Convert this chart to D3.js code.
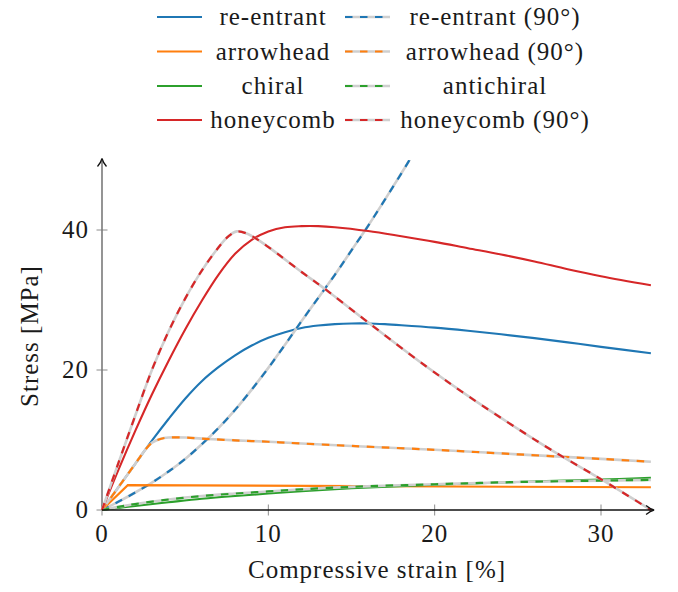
<!DOCTYPE html>
<html>
<head>
<meta charset="utf-8">
<script src="https://cdn.jsdelivr.net/npm/d3@7/dist/d3.min.js"></script>
<style>
  html, body { margin: 0; padding: 0; background: #fff; }
</style>
</head>
<body>
<svg id="chart" width="678" height="592"></svg>
<script>
// ---- Data (strain %, stress MPa) ----
const reentrant = [[0,0],[1,3.3],[2,6.6],[3,9.9],[4,13.0],[5,15.9],[6,18.4],[7,20.4],[8,22.1],[9,23.5],[10,24.6],[11,25.4],[12,26.0],[13,26.35],[14,26.55],[15,26.65],[16,26.65],[17,26.55],[18,26.4],[20,26.05],[22,25.6],[24,25.1],[26,24.55],[28,23.95],[30,23.3],[33,22.4]];
const reentrant90 = [[0,0],[1,1.2],[2,2.5],[3,3.9],[4,5.5],[5,7.3],[6,9.4],[7,11.7],[8,14.3],[9,17.2],[10,20.3],[11,23.6],[12,27],[13,30.3],[14,33.6],[15,37.1],[16,40.6],[17,44.3],[18,48.1],[19,52]];
const arrowhead = [[0,0],[1.55,3.55],[33,3.25]];
const arrowhead90 = [[0,0],[1,3.3],[2,6.6],[2.6,8.6],[3,9.6],[3.5,10.15],[4,10.35],[5,10.35],[6,10.2],[8,9.95],[10,9.75],[12,9.5],[15,9.15],[20,8.6],[25,7.95],[30,7.3],[33,6.9]];
const chiral = [[0,0],[1,0.3],[2,0.58],[4,1.1],[6,1.6],[8,2.0],[10,2.35],[12,2.68],[15,3.1],[20,3.6],[25,4.0],[30,4.35],[33,4.6]];
const antichiral = [[0,0],[1,0.45],[2,0.85],[4,1.5],[6,2.0],[8,2.35],[10,2.65],[12,2.95],[15,3.3],[20,3.68],[25,4.0],[30,4.2],[33,4.3]];
const honeycomb = [[0,0],[1,5.8],[2,11.3],[3,16.5],[4,21.3],[5,25.8],[6,29.9],[7,33.6],[8,36.6],[9,38.6],[10,39.8],[11,40.4],[12,40.55],[13,40.55],[14,40.4],[16,39.85],[18,39.1],[20,38.3],[22,37.4],[24,36.5],[26,35.5],[28,34.4],[30,33.4],[33,32.1]];
const honeycomb90 = [[0,0],[1,6.8],[2,13.5],[3,20],[4,25.5],[5,30.2],[6,34.2],[7,37.5],[7.6,39.1],[8.1,39.8],[8.7,39.5],[9.5,38.4],[10.5,36.7],[12,34],[13.5,31.4],[16,26.8],[19.5,20.5],[22,16.3],[25,11.6],[27,8.6],[30,4.4],[33,0]];

const seriesNames = ["re-entrant", "re-entrant (90°)", "arrowhead", "arrowhead (90°)", "chiral", "antichiral", "honeycomb", "honeycomb (90°)"];
const seriesColors = ["#1f77b4", "#1f77b4", "#ff7f0e", "#ff7f0e", "#2ca02c", "#2ca02c", "#d62728", "#d62728"];
const seriesDashed = [false, true, false, true, false, true, false, true];
const seriesData = [reentrant, reentrant90, arrowhead, arrowhead90, chiral, antichiral, honeycomb, honeycomb90];

const xTicks = [0, 10, 20, 30];
const yTicks = [0, 20, 40];
const xLabel = "Compressive strain [%]";
const yLabel = "Stress [MPa]";

// ---- Layout ----
const FONT = "'Liberation Serif', 'DejaVu Serif', serif";
const svg = d3.select("#chart");
const x = d3.scaleLinear().domain([0, 30]).range([102, 601]);
const y = d3.scaleLinear().domain([0, 40]).range([510, 230]);
const xMax = 33.1, yMax = 50;

function txt(sel) {
  return sel.attr("font-family", FONT).attr("font-size", 25).attr("fill", "#1a1a1a").attr("letter-spacing", "1px");
}

svg.append("defs").append("clipPath").attr("id", "plotclip")
  .append("rect").attr("x", x(0) - 2).attr("y", y(yMax)).attr("width", x(xMax) - x(0) + 4).attr("height", y(0) - y(yMax) + 4);

// ticks (gray, crossing axes)
const tickColor = "#8c8c8c";
svg.append("g").selectAll("line").data(xTicks).join("line")
  .attr("x1", d => x(d)).attr("x2", d => x(d)).attr("y1", y(0) - 5.5).attr("y2", y(0) + 5.5)
  .attr("stroke", tickColor).attr("stroke-width", 1);
svg.append("g").selectAll("line").data(yTicks).join("line")
  .attr("x1", x(0) - 5.5).attr("x2", x(0) + 5.5).attr("y1", d => y(d)).attr("y2", d => y(d))
  .attr("stroke", tickColor).attr("stroke-width", 1);

// tick labels
txt(svg.append("g").selectAll("text").data(xTicks).join("text"))
  .attr("x", d => x(d)).attr("y", 542).attr("text-anchor", "middle").text(d => d);
txt(svg.append("g").selectAll("text").data(yTicks).join("text"))
  .attr("x", 89).attr("y", d => y(d) + 8).attr("text-anchor", "end").text(d => d);

// y axis (gray)
svg.append("line").attr("x1", x(0)).attr("x2", x(0)).attr("y1", y(0)).attr("y2", y(yMax) + 1)
  .attr("stroke", "#7a7a7a").attr("stroke-width", 1.6);

// curves
const line = d3.line().x(d => x(d[0])).y(d => y(d[1])).curve(d3.curveCatmullRom.alpha(0.5));
const lineLin = d3.line().x(d => x(d[0])).y(d => y(d[1]));
const plot = svg.append("g").attr("clip-path", "url(#plotclip)");
seriesData.forEach((data, i) => {
  const gen = (data === arrowhead) ? lineLin : line;
  if (seriesDashed[i]) {
    plot.append("path").attr("d", gen(data)).attr("fill", "none")
      .attr("stroke", "#cfcfcf").attr("stroke-width", 2.6);
    plot.append("path").attr("d", gen(data)).attr("fill", "none")
      .attr("stroke", seriesColors[i]).attr("stroke-width", 2.2)
      .attr("stroke-dasharray", "7.5,7.5");
  } else {
    plot.append("path").attr("d", gen(data)).attr("fill", "none")
      .attr("stroke", seriesColors[i]).attr("stroke-width", 2.1);
  }
});

// x axis (black)
svg.append("line").attr("x1", x(0)).attr("x2", x(xMax)).attr("y1", y(0)).attr("y2", y(0))
  .attr("stroke", "#111").attr("stroke-width", 1.3);

// arrow heads
function arrowPath(tx, ty, dir) {
  if (dir === "right") {
    return `M${tx-8},${ty-4.5} C${tx-5},${ty-2} ${tx-2},${ty-0.5} ${tx},${ty} C${tx-2},${ty+0.5} ${tx-5},${ty+2} ${tx-8},${ty+4.5}`;
  }
  return `M${tx-4.5},${ty+8} C${tx-2},${ty+5} ${tx-0.5},${ty+2} ${tx},${ty} C${tx+0.5},${ty+2} ${tx+2},${ty+5} ${tx+4.5},${ty+8}`;
}
svg.append("path").attr("d", arrowPath(x(xMax) + 1.5, y(0), "right"))
  .attr("fill", "none").attr("stroke", "#111").attr("stroke-width", 1.3);
svg.append("path").attr("d", arrowPath(x(0), y(yMax) - 1.5, "up"))
  .attr("fill", "none").attr("stroke", "#111").attr("stroke-width", 1.3);

// axis titles
txt(svg.append("text")).attr("x", 377).attr("y", 578).attr("text-anchor", "middle").text(xLabel);
txt(svg.append("text")).attr("transform", "translate(38,336) rotate(-90)").attr("text-anchor", "middle").text(yLabel);

// legend (2 columns: solid left, dashed right)
const legendRowY = [17, 51.5, 86, 120];
const legendColLineX = [157, 345];
const legendColTextX = [273, 495];
seriesNames.forEach((name, i) => {
  const col = i % 2, row = Math.floor(i / 2);
  const ly = legendRowY[row];
  const lx = legendColLineX[col];
  const g = svg.append("g");
  if (seriesDashed[i]) {
    g.append("line").attr("x1", lx).attr("x2", lx + 45).attr("y1", ly).attr("y2", ly)
      .attr("stroke", "#cfcfcf").attr("stroke-width", 2.6);
    g.append("line").attr("x1", lx).attr("x2", lx + 45).attr("y1", ly).attr("y2", ly)
      .attr("stroke", seriesColors[i]).attr("stroke-width", 2.2).attr("stroke-dasharray", "7.5,7.5");
  } else {
    g.append("line").attr("x1", lx).attr("x2", lx + 45).attr("y1", ly).attr("y2", ly)
      .attr("stroke", seriesColors[i]).attr("stroke-width", 2.1);
  }
  txt(g.append("text")).attr("x", legendColTextX[col]).attr("y", ly + 8).attr("text-anchor", "middle").text(name);
});
</script>
</body>
</html>
